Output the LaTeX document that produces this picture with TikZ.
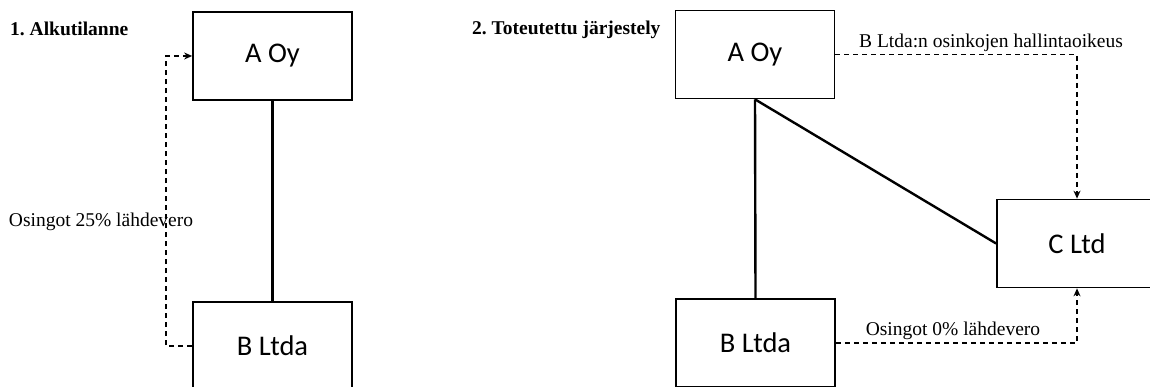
\documentclass[tikz,border=0pt]{standalone}
\usepackage{fontspec}
\setmainfont{Liberation Serif}
\newfontfamily\boxfont{Carlito}
\usetikzlibrary{arrows.meta}
\frenchspacing
\begin{document}
\begin{tikzpicture}[x=1pt,y=-1pt,
  entity/.style={draw,line width=1.7pt,minimum width=159pt,minimum height=88pt,inner sep=0pt,font=\boxfont\fontsize{28.5}{32}\selectfont},
  link/.style={line width=2.4pt},
  flow/.style={line width=1.6pt,dash pattern=on 5pt off 4pt},
  tip/.style={-{Stealth[length=8pt,width=7pt]}},
  lbl/.style={inner sep=0pt,anchor=base,font=\fontsize{19.5}{23}\selectfont},
  ttl/.style={inner sep=0pt,anchor=base west,font=\bfseries\fontsize{19.5}{23}\selectfont}]
\useasboundingbox (0,0) rectangle (1150,387);
\clip (0,0) rectangle (1150,387);
% panel 1
\node[ttl] (t1) at (10,36) {1. Alkutilanne};
\node[entity] (a1) at (272.5,56) {A Oy};
\node[entity] (b1) at (272.5,346) {B Ltda};
\draw[link] (a1.south) -- (b1.north);
\coordinate (l1) at (166,346);
\coordinate (l2) at (166,56);
\draw[flow,tip] (b1.west) -- (l1) -- (l2) -- (a1.west);
\node[lbl] (d1) at (101,226) {Osingot 25\% lähdevero};
% panel 2
\node[ttl] (t2) at (472,35) {2. Toteutettu järjestely};
\node[entity] (a2) at (755,54.5) {A Oy};
\node[entity] (b2) at (755.5,343) {B Ltda};
\node[entity,minimum width=160pt] (c2) at (1077,243.5) {C Ltd};
\draw[link] (a2.south) -- (b2.north);
\draw[link] (a2.south) -- (c2.west);
\coordinate (r1) at (1077,54.5);
\coordinate (r2) at (1077,343);
\draw[flow,tip] (a2.east) -- (r1) -- (c2.north);
\draw[flow,tip] (b2.east) -- (r2) -- (c2.south);
\node[lbl] (h2) at (991,48) {B Ltda:n osinkojen hallintaoikeus};
\node[lbl] (d2) at (953,335) {Osingot 0\% lähdevero};
\end{tikzpicture}
\end{document}
